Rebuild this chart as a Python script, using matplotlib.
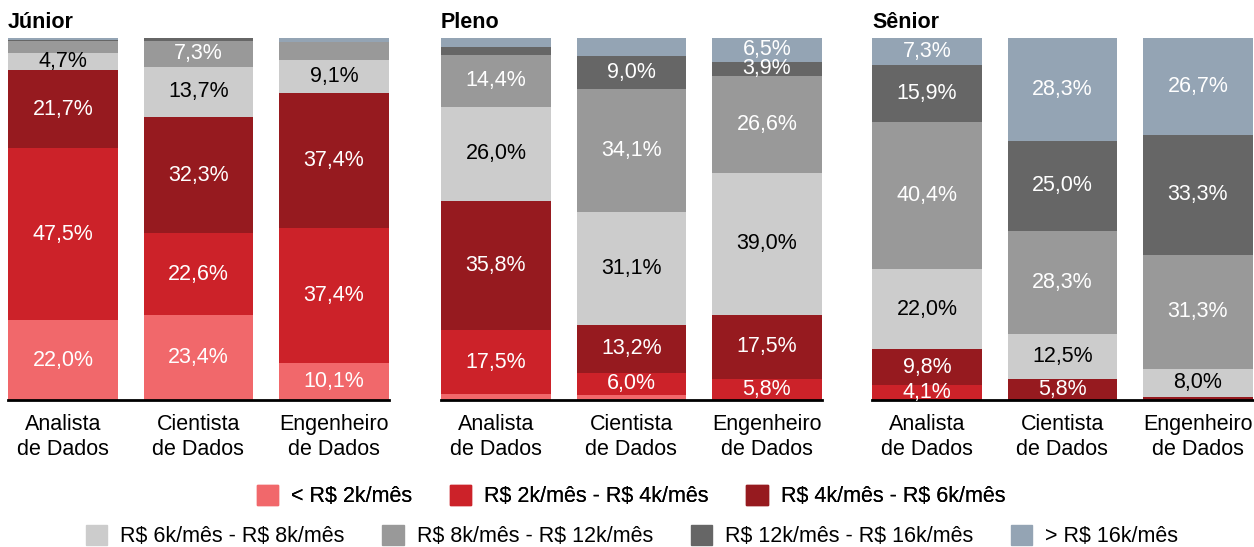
import numpy as np
import matplotlib
matplotlib.use("Agg")
import matplotlib.pyplot as plt
from matplotlib.patches import Rectangle

plt.rcParams['font.family'] = ['Liberation Sans', 'DejaVu Sans']

niveis = ["Júnior", "Pleno", "Sênior"]
cargos = ["Analista\nde Dados", "Cientista\nde Dados", "Engenheiro\nde Dados"]
faixas = [r"< R\$ 2k/mês", r"R\$ 2k/mês - R\$ 4k/mês", r"R\$ 4k/mês - R\$ 6k/mês",
          r"R\$ 6k/mês - R\$ 8k/mês", r"R\$ 8k/mês - R\$ 12k/mês",
          r"R\$ 12k/mês - R\$ 16k/mês", r"> R\$ 16k/mês"]
cores = ["#F1686B", "#CC2229", "#961A1F", "#CCCCCC", "#999999", "#666666", "#94A4B4"]
cor_texto = ["white", "white", "white", "black", "white", "white", "white"]

# % por faixa, uma lista por cargo (Analista, Cientista, Engenheiro)
junior = [[22.0, 47.5, 21.7, 4.7, 3.2, 0.4, 0.5],
          [23.4, 22.6, 32.3, 13.7, 7.3, 0.7, 0.0],
          [10.1, 37.4, 37.4, 9.1, 4.9, 0.0, 1.1]]
pleno = [[1.7, 17.5, 35.8, 26.0, 14.4, 2.0, 2.6],
         [1.5, 6.0, 13.2, 31.1, 34.1, 9.0, 5.1],
         [0.0, 5.8, 17.5, 39.0, 26.6, 3.9, 6.5]]
senior = [[0.0, 4.1, 9.8, 22.0, 40.4, 15.9, 7.3],
          [0.0, 0.0, 5.8, 12.5, 28.3, 25.0, 28.3],
          [0.0, 0.0, 0.7, 8.0, 31.3, 33.3, 26.7]]
dados = [junior, pleno, senior]

# segmentos sem rótulo no original (nivel, cargo, faixa)
sem_rotulo = [(0, 2, 4), (1, 1, 6)]
minimo_rotulo = 3.8

W, H = 1254, 547
fig = plt.figure(figsize=(W / 100, H / 100), dpi=100)

lefts = [8, 441, 872]
largura = 0.81
pitch = 135.5
ax_w = (2 + largura) * pitch
bottom = 1 - 400 / H
top = 1 - 38 / H
fs = 15.5

for n, nivel in enumerate(niveis):
    ax = fig.add_axes([lefts[n] / W, bottom, ax_w / W, top - bottom])
    vals = np.array(dados[n])
    vals_n = vals / vals.sum(axis=1, keepdims=True) * 100
    x = np.arange(len(cargos))
    base = np.zeros(len(cargos))
    for f in range(len(faixas)):
        h = vals_n[:, f]
        ax.bar(x, h, width=largura, bottom=base, color=cores[f], linewidth=0)
        for c in range(len(cargos)):
            v = vals[c, f]
            if v >= minimo_rotulo and (n, c, f) not in sem_rotulo:
                ax.text(x[c], base[c] + h[c] / 2, f"{v:.1f}".replace(".", ",") + "%",
                        ha="center", va="center", color=cor_texto[f], fontsize=fs)
        base += h
    ax.set_xlim(-largura / 2, 2 + largura / 2)
    ax.set_ylim(0, 100)
    ax.set_xticks(x)
    ax.set_xticklabels(cargos, fontsize=fs, linespacing=1.25)
    ax.tick_params(axis="x", length=0, pad=10)
    ax.set_yticks([])
    for s in ["top", "right", "left"]:
        ax.spines[s].set_visible(False)
    ax.spines["bottom"].set_linewidth(2)
    ax.spines["bottom"].set_color("black")
    ax.text(0, 1 + 16 / 362, nivel, transform=ax.transAxes, ha="left", va="center",
            fontsize=fs, fontweight="bold")

handles = [Rectangle((0, 0), 1, 1, color=c) for c in cores]
kw = dict(frameon=False, fontsize=fs, handlelength=1.0, handleheight=1.05,
          handletextpad=0.6, columnspacing=1.75, loc="center", borderpad=0)
leg1 = fig.legend(handles[:3], faixas[:3], ncol=3,
                  bbox_to_anchor=(631 / W, 1 - 496 / H), **kw)
fig.add_artist(leg1)
fig.legend(handles[3:], faixas[3:], ncol=4,
           bbox_to_anchor=(632 / W, 1 - 536 / H), **kw)

fig.savefig("out.png", dpi=100)
